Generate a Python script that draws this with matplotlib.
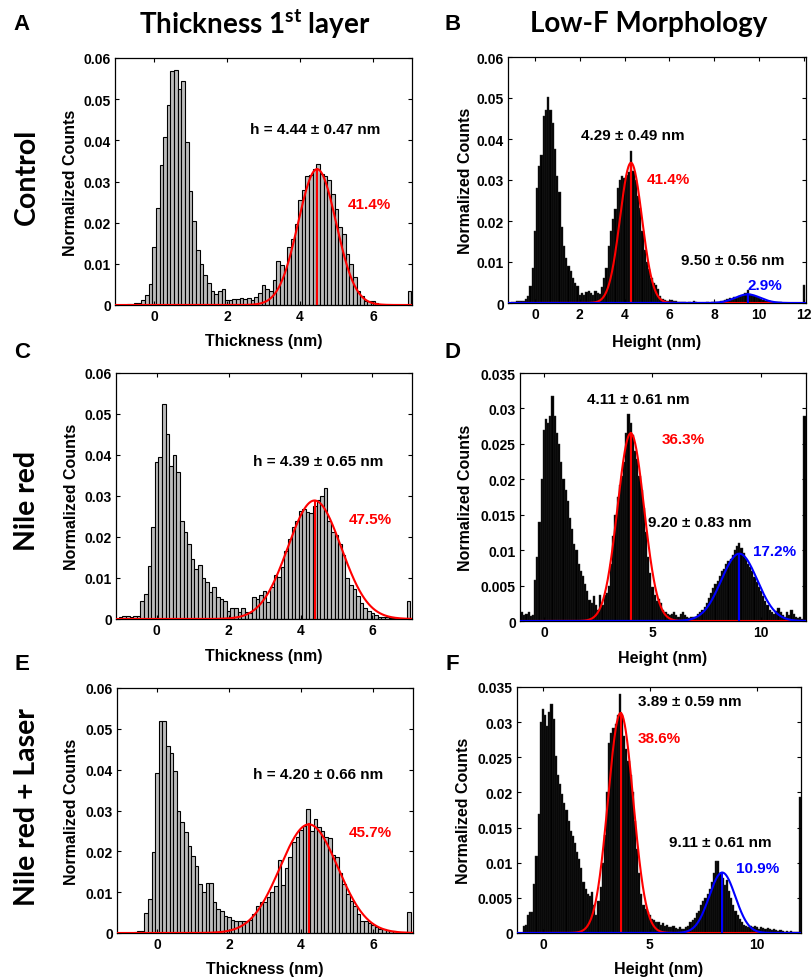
import numpy as np
import matplotlib
matplotlib.use("Agg")
import matplotlib.pyplot as plt

plt.rcParams['font.family'] = ['Liberation Sans', 'DejaVu Sans']
plt.rcParams['font.weight'] = 'bold'
plt.rcParams['mathtext.fontset'] = 'custom'
plt.rcParams['mathtext.rm'] = 'Lato:bold'
plt.rcParams['mathtext.bf'] = 'Lato:bold'

# ---------------- data ----------------
# left column: thickness histograms, bin centres -1.0 ... 7.0 (step 0.1)
thick_start = -1.0
thick_control = [
    0, 0, 0, 0.0002, 0.0003, 0.0004, 0.0006, 0.0012, 0.0025, 0.0050,
    0.0142, 0.0235, 0.0340, 0.0408, 0.0486, 0.0568, 0.0572, 0.0525, 0.0543, 0.0395,
    0.0278, 0.0205, 0.0133, 0.0100, 0.0072, 0.0053, 0.0035, 0.0027, 0.0035, 0.0038,
    0.0012, 0.0013, 0.0015, 0.0015, 0.0017, 0.0015, 0.0017, 0.0013, 0.0020, 0.0030,
    0.0048, 0.0038, 0.0035, 0.0060, 0.0107, 0.0098, 0.0088, 0.0140, 0.0160, 0.0197,
    0.0256, 0.0280, 0.0314, 0.0317, 0.0330, 0.0342, 0.0318, 0.0314, 0.0303, 0.0270,
    0.0233, 0.0189, 0.0172, 0.0124, 0.0100, 0.0069, 0.0035, 0.0023, 0.0010, 0.0009,
    0.0009, 0.0005, 0, 0, 0, 0, 0, 0, 0, 0,
    0.0035]
thick_nile = [
    0.0005, 0.0007, 0.0007, 0.0006, 0.0007, 0.0008, 0.0045, 0.0060, 0.0130, 0.0224,
    0.0384, 0.0394, 0.0524, 0.0451, 0.0374, 0.0400, 0.0358, 0.0240, 0.0211, 0.0183,
    0.0146, 0.0122, 0.0132, 0.0099, 0.0090, 0.0067, 0.0077, 0.0053, 0.0050, 0.0045,
    0.0020, 0.0026, 0.0026, 0.0018, 0.0028, 0.0017, 0.0015, 0.0053, 0.0050, 0.0059,
    0.0068, 0.0042, 0.0077, 0.0108, 0.0102, 0.0126, 0.0167, 0.0195, 0.0224, 0.0240,
    0.0263, 0.0268, 0.0260, 0.0259, 0.0276, 0.0291, 0.0299, 0.0320, 0.0240, 0.0212,
    0.0205, 0.0183, 0.0155, 0.0100, 0.0083, 0.0073, 0.0057, 0.0040, 0.0028, 0.0020,
    0.0015, 0.0010, 0.0006, 0.0004, 0.0004, 0.0003, 0.0002, 0.0002, 0.0001, 0,
    0.0045]
thick_laser = [
    0, 0, 0, 0.0001, 0.0003, 0.0005, 0.0006, 0.0049, 0.0084, 0.0198,
    0.0392, 0.0520, 0.0518, 0.0458, 0.0442, 0.0396, 0.0300, 0.0271, 0.0248, 0.0212,
    0.0188, 0.0163, 0.0120, 0.0100, 0.0122, 0.0122, 0.0075, 0.0059, 0.0055, 0.0042,
    0.0040, 0.0033, 0.0030, 0.0029, 0.0029, 0.0030, 0.0031, 0.0047, 0.0066, 0.0075,
    0.0076, 0.0087, 0.0100, 0.0116, 0.0178, 0.0117, 0.0160, 0.0186, 0.0222, 0.0235,
    0.0252, 0.0262, 0.0304, 0.0250, 0.0280, 0.0260, 0.0250, 0.0236, 0.0233, 0.0192,
    0.0185, 0.0146, 0.0120, 0.0096, 0.0079, 0.0067, 0.0047, 0.0030, 0.0029, 0.0024,
    0.0019, 0.0014, 0.0010, 0.0010, 0.0008, 0.0006, 0.0004, 0.0002, 0.0002, 0.0002,
    0.0052]

# right column: height histograms, bin centres -1.0 ... 12.0 (step 0.1)
height_start = -1.0
height_control = [
    0.0003, 0.0003, 0.0005, 0.0004, 0.0006, 0.0005, 0.0009, 0.0016, 0.0042, 0.0085,
    0.0175, 0.0280, 0.0335, 0.0360, 0.0455, 0.0470, 0.0503, 0.0470, 0.0440, 0.0375,
    0.0310, 0.0270, 0.0185, 0.0140, 0.0110, 0.0090, 0.0078, 0.0060, 0.0050, 0.0042,
    0.0020, 0.0025, 0.0020, 0.0026, 0.0030, 0.0024, 0.0020, 0.0030, 0.0025, 0.0022,
    0.0040, 0.0060, 0.0085, 0.0140, 0.0175, 0.0205, 0.0230, 0.0280, 0.0300, 0.0310,
    0.0305, 0.0312, 0.0320, 0.0370, 0.0322, 0.0300, 0.0262, 0.0232, 0.0175, 0.0130,
    0.0100, 0.0082, 0.0062, 0.0050, 0.0045, 0.0035, 0.0016, 0.0010, 0.0007, 0.0005,
    0.0004, 0.0008, 0.0006, 0.0004, 0.0003, 0.0002, 0.0003, 0.0002, 0.0001, 0.0002,
    0.0001, 0.0004, 0.0002, 0.0001, 0.0001, 0.0001, 0.0001, 0.0002, 0.0001, 0.0002,
    0.0002, 0.0003, 0.0002, 0.0004, 0.0005, 0.0008, 0.0010, 0.0012, 0.0010, 0.0014,
    0.0012, 0.0016, 0.0018, 0.0020, 0.0024, 0.0032, 0.0022, 0.0020, 0.0016, 0.0014,
    0.0012, 0.0009, 0.0008, 0.0005, 0.0004, 0.0006, 0.0003, 0.0002, 0.0003, 0.0002,
    0.0002, 0.0001, 0.0001, 0.0001, 0.0001, 0.0001, 0, 0, 0, 0,
    0.0045]
height_nile = [
    0.0013, 0.0008, 0.0010, 0.0012, 0.0007, 0.0008, 0.0058, 0.0090, 0.0140, 0.0200,
    0.0270, 0.0285, 0.0280, 0.0290, 0.0318, 0.0290, 0.0265, 0.0250, 0.0225, 0.0200,
    0.0185, 0.0170, 0.0145, 0.0130, 0.0108, 0.0100, 0.0080, 0.0070, 0.0064, 0.0052,
    0.0042, 0.0030, 0.0025, 0.0035, 0.0022, 0.0016, 0.0036, 0.0022, 0.0036, 0.0040,
    0.0050, 0.0080, 0.0120, 0.0150, 0.0175, 0.0192, 0.0205, 0.0225, 0.0265, 0.0292,
    0.0280, 0.0262, 0.0240, 0.0228, 0.0205, 0.0185, 0.0160, 0.0125, 0.0090, 0.0068,
    0.0048, 0.0036, 0.0028, 0.0031, 0.0025, 0.0015, 0.0012, 0.0010, 0.0008, 0.0010,
    0.0012, 0.0008, 0.0006, 0.0010, 0.0012, 0.0008, 0.0005, 0.0004, 0.0005, 0.0006,
    0.0006, 0.0010, 0.0012, 0.0015, 0.0020, 0.0026, 0.0033, 0.0040, 0.0046, 0.0052,
    0.0057, 0.0064, 0.0070, 0.0074, 0.0080, 0.0085, 0.0088, 0.0093, 0.0100, 0.0106,
    0.0110, 0.0103, 0.0096, 0.0087, 0.0080, 0.0076, 0.0070, 0.0062, 0.0055, 0.0048,
    0.0042, 0.0035, 0.0028, 0.0022, 0.0015, 0.0012, 0.0010, 0.0014, 0.0018, 0.0012,
    0.0008, 0.0006, 0.0012, 0.0008, 0.0015, 0.0010, 0.0006, 0.0004, 0.0005, 0.0003,
    0.0290]
height_laser = [
    0.0000, 0.0010, 0.0012, 0.0025, 0.0030, 0.0030, 0.0070, 0.0110, 0.0170, 0.0300,
    0.0318, 0.0310, 0.0295, 0.0315, 0.0326, 0.0305, 0.0252, 0.0225, 0.0212, 0.0198,
    0.0185, 0.0175, 0.0160, 0.0145, 0.0138, 0.0128, 0.0115, 0.0105, 0.0092, 0.0072,
    0.0063, 0.0055, 0.0052, 0.0058, 0.0040, 0.0025, 0.0045, 0.0065, 0.0100, 0.0140,
    0.0200, 0.0270, 0.0285, 0.0292, 0.0298, 0.0310, 0.0340, 0.0310, 0.0280, 0.0262,
    0.0245, 0.0225, 0.0200, 0.0160, 0.0120, 0.0085, 0.0055, 0.0040, 0.0034, 0.0030,
    0.0026, 0.0020, 0.0018, 0.0016, 0.0015, 0.0012, 0.0014, 0.0010, 0.0012, 0.0009,
    0.0008, 0.0010, 0.0007, 0.0006, 0.0008, 0.0005, 0.0006, 0.0008, 0.0010, 0.0015,
    0.0018, 0.0022, 0.0028, 0.0032, 0.0040, 0.0045, 0.0050, 0.0055, 0.0062, 0.0072,
    0.0085, 0.0102, 0.0102, 0.0085, 0.0078, 0.0068, 0.0075, 0.0060, 0.0050, 0.0040,
    0.0032, 0.0026, 0.0020, 0.0015, 0.0012, 0.0010, 0.0008, 0.0010, 0.0009, 0.0010,
    0.0008, 0.0006, 0.0008, 0.0007, 0.0005, 0.0007, 0.0006, 0.0004, 0.0005, 0.0004,
    0.0003, 0.0004, 0.0003, 0.0002, 0.0003, 0.0002, 0.0003, 0.0002, 0.0002, 0.0001,
    0.0193]

# gaussian fits: (mean, sigma, amplitude)
fit_A = [(4.47, 0.52, 0.0330)]
fit_B = [(4.29, 0.49, 0.0342), (9.50, 0.56, 0.0021)]
fit_C = [(4.39, 0.74, 0.0289)]
fit_D = [(4.00, 0.61, 0.0265), (9.00, 0.83, 0.0095)]
fit_E = [(4.22, 0.80, 0.0266)]
fit_F = [(3.63, 0.59, 0.0313), (8.38, 0.61, 0.0086)]
fit_colors = ['#ff0000', '#0000ff']

row_labels = ['Control', 'Nile red', 'Nile red + Laser']
panel_letters = ['A', 'B', 'C', 'D', 'E', 'F']
left_xticks = [0, 2, 4, 6]
B_xticks = [0, 2, 4, 6, 8, 10, 12]
DF_xticks = [0, 5, 10]
left_yticks = [0, 0.01, 0.02, 0.03, 0.04, 0.05, 0.06]
left_yticklabels = ['0', '0.01', '0.02', '0.03', '0.04', '0.05', '0.06']
DF_yticks = [0, 0.005, 0.01, 0.015, 0.02, 0.025, 0.03, 0.035]
DF_yticklabels = ['0', '0.005', '0.01', '0.015', '0.02', '0.025', '0.03', '0.035']

# ---------------- figure ----------------
W, H = 812, 978
fig = plt.figure(figsize=(W / 100, H / 100), dpi=100)

TICK_FS = 10
LABEL_FS = 11.5
ANN_FS = 11


def add_ax(l, t, r, b):
    return fig.add_axes([l / W, 1 - b / H, (r - l) / W, (b - t) / H])


def hist_panel(ax, start, vals, face, edge, lw):
    x = start + 0.1 * np.arange(len(vals))
    ax.bar(x, vals, width=0.1, color=face, edgecolor=edge, linewidth=lw, zorder=1)


def fits(ax, fl, xlim):
    xx = np.linspace(xlim[0], xlim[1], 800)
    for (mu, s, a), c in zip(fl, fit_colors):
        ax.plot(xx, a * np.exp(-(xx - mu) ** 2 / (2 * s ** 2)), color=c, lw=1.5, zorder=3)
        ax.plot([mu, mu], [0, a], color=c, lw=1.5, zorder=3)


def style(ax, xlim, ylim, xt, yt, ytl, xlabel, xlab_off, axh):
    ax.set_xlim(*xlim)
    ax.set_ylim(*ylim)
    ax.set_xticks(xt)
    ax.set_xticklabels([str(v) for v in xt])
    ax.set_yticks(yt)
    ax.set_yticklabels(ytl)
    ax.tick_params(direction='in', top=True, right=True, length=3, width=0.8,
                   labelsize=TICK_FS, pad=3)
    for sp in ax.spines.values():
        sp.set_linewidth(0.9)
    ax.set_xlabel(xlabel, fontsize=LABEL_FS, fontweight='bold')
    ax.xaxis.label.set_va('center')
    ax.xaxis.set_label_coords(0.5, -xlab_off / axh)
    ax.set_ylabel('Normalized Counts', fontsize=LABEL_FS, fontweight='bold')
    ax.yaxis.label.set_va('center')


def ftext(px, py, s, color='black', size=ANN_FS, **kw):
    fig.text(px / W, 1 - py / H, s, color=color, fontsize=size, fontweight='bold',
             ha='center', va='center', **kw)


# panel geometry (pixels): left, top, right, bottom
geom = {
    'A': (115, 59, 412, 306), 'B': (508, 58, 806, 304),
    'C': (116, 374, 412, 620), 'D': (520, 374, 806, 622),
    'E': (117, 689, 413, 934), 'F': (517, 688, 801, 934),
}
xlims = {'A': (-1.07, 7.07), 'B': (-1.2, 12.1), 'C': (-1.13, 7.1),
         'D': (-1.1, 12.07), 'E': (-1.11, 7.11), 'F': (-1.21, 12.06)}
ylab_off = {'A': 44, 'B': 42, 'C': 44, 'D': 54, 'E': 45, 'F': 54}
xlab_off = {'A': 36, 'B': 38, 'C': 37, 'D': 36, 'E': 36, 'F': 36}

left_data = {'A': (thick_control, fit_A), 'C': (thick_nile, fit_C), 'E': (thick_laser, fit_E)}
right_data = {'B': (height_control, fit_B), 'D': (height_nile, fit_D), 'F': (height_laser, fit_F)}

for key in ['A', 'C', 'E']:
    l, t, r, b = geom[key]
    ax = add_ax(l, t, r, b)
    vals, fl = left_data[key]
    hist_panel(ax, thick_start, vals, '#bcbcbc', 'black', 0.8)
    fits(ax, fl, xlims[key])
    style(ax, xlims[key], (0, 0.06), left_xticks, left_yticks, left_yticklabels,
          'Thickness (nm)', xlab_off[key], b - t)
    ax.yaxis.set_label_coords(-ylab_off[key] / (r - l), 0.5)

for key in ['B', 'D', 'F']:
    l, t, r, b = geom[key]
    ax = add_ax(l, t, r, b)
    vals, fl = right_data[key]
    hist_panel(ax, height_start, vals, 'black', '#2a2a2a', 0.3)
    fits(ax, fl, xlims[key])
    if key == 'B':
        style(ax, xlims[key], (0, 0.06), B_xticks, left_yticks, left_yticklabels,
              'Height (nm)', xlab_off[key], b - t)
    else:
        style(ax, xlims[key], (0, 0.035), DF_xticks, DF_yticks, DF_yticklabels,
              'Height (nm)', xlab_off[key], b - t)
    ax.yaxis.set_label_coords(-ylab_off[key] / (r - l), 0.5)

# annotations
RED, BLUE = '#ff0000', '#0000ff'
ftext(315, 130, 'h = 4.44 \u00b1 0.47 nm')
ftext(369, 205, '41.4%', RED)
ftext(633, 136, '4.29 \u00b1 0.49 nm')
ftext(668, 180, '41.4%', RED)
ftext(733, 261, '9.50 \u00b1 0.56 nm')
ftext(765, 286, '2.9%', BLUE)

ftext(318, 462, 'h = 4.39 \u00b1 0.65 nm')
ftext(370, 520, '47.5%', RED)
ftext(638, 400, '4.11 \u00b1 0.61 nm')
ftext(683, 440, '36.3%', RED)
ftext(700, 523, '9.20 \u00b1 0.83 nm')
ftext(775, 552, '17.2%', BLUE)

ftext(318, 775, 'h = 4.20 \u00b1 0.66 nm')
ftext(370, 833, '45.7%', RED)
ftext(690, 702, '3.89 \u00b1 0.59 nm')
ftext(659, 739, '38.6%', RED)
ftext(720, 843, '9.11 \u00b1 0.61 nm')
ftext(758, 869, '10.9%', BLUE)

# panel letters
letter_pos = [(22, 25), (453, 25), (22, 352), (453, 352), (22, 665), (452, 665)]
for s, (px, py) in zip(panel_letters, letter_pos):
    ftext(px, py, s, size=16)

# column titles
ftext(255, 24, r'Thickness 1$^{\mathbf{st}}$ layer', size=20, family='Lato')
ftext(649, 24, 'Low-F Morphology', size=20, family='Lato')

# row labels
for s, py in zip(row_labels, [177, 501, 807]):
    ftext(27, py, s, size=20.5, family='Lato', rotation=90)

fig.savefig('out.png', dpi=100)
